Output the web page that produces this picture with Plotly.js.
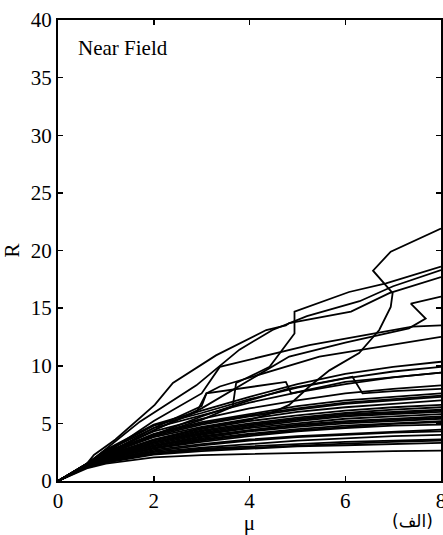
<!DOCTYPE html>
<html>
<head>
<meta charset="utf-8">
<script src="https://cdn.plot.ly/plotly-3.0.1.min.js"></script>
<style>html,body{margin:0;padding:0;background:#fff;}#chart{width:443px;height:535px;}</style>
</head>
<body>
<div id="chart"></div>
<script>
// shared x grid for the bundle curves (mu)
const bundleX = [0, 0.6, 1, 2, 3, 4, 5, 6, 7, 8];
// bundle curves (R values at bundleX)
const bundleY = [
  [0, 1.1, 1.5, 2.05, 2.25, 2.35, 2.45, 2.55, 2.6, 2.63],
  [0, 1.2, 1.6, 2.3, 2.6, 2.8, 3.0, 3.1, 3.2, 3.3],
  [0, 1.2, 1.65, 2.35, 2.7, 2.9, 3.1, 3.25, 3.4, 3.5],
  [0, 1.2, 1.7, 2.4, 2.8, 3.0, 3.2, 3.4, 3.5, 3.6],
  [0, 1.25, 1.75, 2.5, 2.9, 3.2, 3.5, 3.7, 3.9, 4.0],
  [0, 1.25, 1.8, 2.6, 3.1, 3.5, 3.8, 4.0, 4.2, 4.3],
  [0, 1.3, 1.8, 2.7, 3.2, 3.6, 3.9, 4.1, 4.3, 4.45],
  [0, 1.3, 1.9, 2.8, 3.4, 3.9, 4.3, 4.6, 4.8, 4.9],
  [0, 1.3, 1.9, 2.85, 3.5, 4.0, 4.4, 4.7, 4.95, 5.1],
  [0, 1.3, 1.9, 2.9, 3.6, 4.1, 4.5, 4.8, 5.0, 5.2],
  [0, 1.35, 2.0, 3.0, 3.7, 4.3, 4.7, 5.0, 5.2, 5.4],
  [0, 1.35, 2.0, 3.05, 3.8, 4.4, 4.8, 5.1, 5.3, 5.5],
  [0, 1.35, 2.0, 3.1, 3.9, 4.4, 4.9, 5.2, 5.4, 5.6],
  [0, 1.35, 2.05, 3.2, 4.0, 4.6, 5.0, 5.4, 5.6, 5.8],
  [0, 1.4, 2.1, 3.3, 4.1, 4.7, 5.2, 5.6, 5.8, 6.0],
  [0, 1.4, 2.1, 3.35, 4.2, 4.8, 5.3, 5.7, 5.9, 6.1],
  [0, 1.4, 2.1, 3.4, 4.3, 4.9, 5.4, 5.8, 6.0, 6.2],
  [0, 1.4, 2.2, 3.5, 4.4, 5.0, 5.5, 5.9, 6.2, 6.4],
  [0, 1.4, 2.2, 3.6, 4.5, 5.2, 5.7, 6.1, 6.4, 6.6],
  [0, 1.45, 2.3, 3.8, 4.7, 5.4, 6.0, 6.4, 6.7, 7.0],
  [0, 1.45, 2.3, 3.9, 4.9, 5.6, 6.2, 6.7, 7.0, 7.3],
  [0, 1.45, 2.35, 4.0, 5.0, 5.7, 6.3, 6.8, 7.1, 7.4],
  [0, 1.45, 2.4, 4.1, 5.1, 5.8, 6.5, 7.0, 7.3, 7.6],
  [0, 1.5, 2.5, 4.3, 5.4, 6.3, 7.0, 7.6, 8.0, 8.3],
  [0, 1.5, 2.6, 4.6, 5.7, 6.8, 7.7, 8.4, 9.0, 9.4],
  [0, 1.5, 2.6, 4.8, 5.9, 7.1, 8.1, 8.9, 9.5, 9.9],
  [0, 1.5, 2.7, 4.9, 6.1, 7.3, 8.4, 9.3, 9.9, 10.35]
];
// distinctive upper curves
const curveA_x = [0, 0.6, 1, 2, 3, 4, 4.4, 4.83, 5.25, 5.67, 6.29, 6.71, 6.95, 6.99, 6.58, 6.95, 8];
const curveA_y = [0, 1.4, 2.2, 3.6, 4.6, 5.3, 5.8, 6.6, 8.2, 9.6, 11.1, 13.1, 15.1, 16.3, 18.25, 19.9, 21.9];
const curveK_x = [0, 0.6, 1, 2, 3, 3.65, 3.72, 4.42, 4.94, 4.94, 6.08, 6.85, 8];
const curveK_y = [0, 1.4, 2.3, 4.0, 5.3, 6.45, 8.5, 9.9, 12.8, 14.7, 16.4, 17.15, 18.6];
const curveU1_x = [0, 0.6, 0.75, 1.2, 2.02, 2.4, 3.3, 4.35, 4.76, 4.83, 6.12, 6.92, 8];
const curveU1_y = [0, 1.5, 2.26, 3.6, 6.6, 8.5, 10.9, 13.1, 13.5, 13.7, 14.7, 16.3, 17.7];
const curveU2_x = [0, 0.6, 0.8, 1.71, 2.89, 3.79, 4.48, 5.2, 6.3, 7.0, 8];
const curveU2_y = [0, 1.45, 2.1, 5.15, 8.3, 11.4, 13.1, 14.3, 15.6, 16.9, 18.3];
const curveM1_x = [0, 0.6, 1, 2, 3, 3.38, 5.25, 7.4, 8];
const curveM1_y = [0, 1.45, 2.4, 5.2, 7.6, 9.9, 11.8, 13.4, 13.5];
const curveM2_x = [0, 0.6, 1, 2, 3.0, 3.1, 3.38, 5.46, 8];
const curveM2_y = [0, 1.45, 2.3, 4.6, 6.5, 7.6, 8.2, 10.8, 12.5];
const curveZ_x = [0, 0.6, 1, 2, 3, 4, 4.83, 6, 7.33, 7.68, 7.37, 8];
const curveZ_y = [0, 1.45, 2.3, 4.4, 6.3, 8.8, 10.8, 12.0, 13.25, 14.1, 15.4, 16.0];
const curveKL2_x = [0, 0.6, 1, 2, 3, 4, 4.8, 6.15, 6.36, 7, 8];
const curveKL2_y = [0, 1.4, 2.2, 4.0, 5.6, 7.0, 8.0, 9.05, 7.6, 7.8, 8.0];
const curveKL3_x = [0, 0.6, 1, 2, 2.9, 3.1, 4.76, 4.87, 6, 8];
const curveKL3_y = [0, 1.45, 2.3, 4.4, 6.0, 7.6, 8.6, 7.6, 8.6, 9.4];

const xTicks = [0, 2, 4, 6, 8];
const yTicks = [0, 5, 10, 15, 20, 25, 30, 35, 40];
const panelLabel = 'Near Field';
const xTitle = 'μ';
const yTitle = 'R';
const cornerTag = '(الف)';

const lineStyle = {color: '#000', width: 1.8};
const traces = [];
bundleY.forEach(ys => traces.push({x: bundleX, y: ys, mode: 'lines', line: lineStyle, hoverinfo: 'skip'}));
[[curveA_x, curveA_y], [curveK_x, curveK_y], [curveU1_x, curveU1_y], [curveU2_x, curveU2_y],
 [curveM1_x, curveM1_y], [curveM2_x, curveM2_y], [curveZ_x, curveZ_y],
 [curveKL2_x, curveKL2_y], [curveKL3_x, curveKL3_y]].forEach(([xs, ys]) =>
  traces.push({x: xs, y: ys, mode: 'lines', line: lineStyle, hoverinfo: 'skip'}));

const serif = 'Liberation Serif';
const mkFont = (size) => ({family: serif, size: size, color: '#000'});
const layout = {
  width: 443, height: 535,
  margin: {l: 58, r: 2, t: 20, b: 54},
  paper_bgcolor: '#fff', plot_bgcolor: '#fff',
  showlegend: false,
  font: mkFont(20),
  xaxis: {
    range: [0, 8], tickvals: xTicks, ticktext: xTicks.map(String),
    ticks: 'inside', ticklen: 5, tickwidth: 1.5, tickcolor: '#000',
    showline: true, linecolor: '#000', linewidth: 2, mirror: 'ticks',
    showgrid: false, zeroline: false, ticklabeloverflow: 'allow',
    tickfont: mkFont(21),
    title: {text: xTitle, font: mkFont(21), standoff: 4}
  },
  yaxis: {
    range: [0, 40], tickvals: yTicks, ticktext: yTicks.map(String),
    ticks: 'inside', ticklen: 5, tickwidth: 1.5, tickcolor: '#000',
    showline: true, linecolor: '#000', linewidth: 2, mirror: 'ticks',
    showgrid: false, zeroline: false, ticklabeloverflow: 'allow',
    tickfont: mkFont(21),
    title: {text: yTitle, font: mkFont(21), standoff: 10}
  },
  annotations: [
    {text: panelLabel, xref: 'paper', yref: 'paper', x: 0.048, y: 0.94, xanchor: 'left', yanchor: 'middle',
     showarrow: false, font: mkFont(21)},
    {text: cornerTag, xref: 'paper', yref: 'paper', x: 0.985, y: -0.087, xanchor: 'right', yanchor: 'middle',
     showarrow: false, font: {family: 'DejaVu Sans', size: 17, color: '#000'}}
  ]
};
Plotly.newPlot('chart', traces, layout, {staticPlot: true, displayModeBar: false});
</script>
</body>
</html>
